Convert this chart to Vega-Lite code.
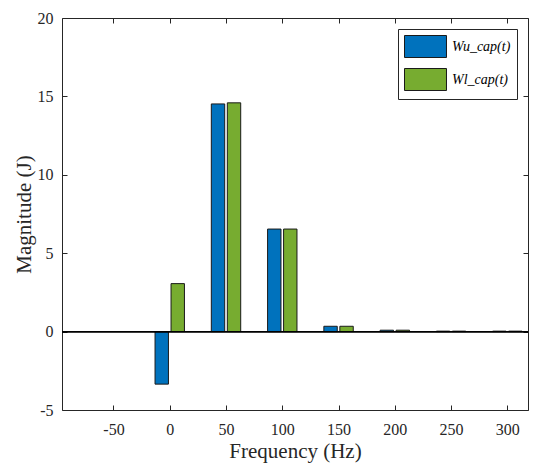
{
  "$schema": "https://vega.github.io/schema/vega-lite/v6.json",
  "width": 466,
  "height": 392,
  "autosize": "none",
  "padding": {"left": 62, "top": 18, "right": 6, "bottom": 55},
  "background": "white",
  "config": {
    "view": {"stroke": null},
    "font": "Liberation Serif",
    "style": {
      "guide-label": {"font": "Liberation Serif"},
      "guide-title": {"font": "Liberation Serif"}
    },
    "axis": {
      "domainColor": "#262626",
      "domainWidth": 1,
      "tickColor": "#262626",
      "tickWidth": 1,
      "tickSize": -5,
      "grid": false,
      "labelFont": "Liberation Serif",
      "labelFontSize": 16,
      "labelColor": "#262626",
      "titleFont": "Liberation Serif",
      "titleFontSize": 21,
      "titleFontWeight": "normal",
      "titleColor": "#262626"
    },
    "legend": {
      "labelFont": "Liberation Serif",
      "labelFontSize": 14,
      "labelFontStyle": "italic",
      "labelColor": "#000000"
    }
  },
  "data": {
    "values": [
      {"freq": 0, "series": "Wu", "value": -3.35},
      {"freq": 50, "series": "Wu", "value": 14.52},
      {"freq": 100, "series": "Wu", "value": 6.54},
      {"freq": 150, "series": "Wu", "value": 0.34},
      {"freq": 200, "series": "Wu", "value": 0.09},
      {"freq": 250, "series": "Wu", "value": 0.03},
      {"freq": 300, "series": "Wu", "value": 0.03},
      {"freq": 0, "series": "Wl", "value": 3.06},
      {"freq": 50, "series": "Wl", "value": 14.59},
      {"freq": 100, "series": "Wl", "value": 6.54},
      {"freq": 150, "series": "Wl", "value": 0.34},
      {"freq": 200, "series": "Wl", "value": 0.09},
      {"freq": 250, "series": "Wl", "value": 0.03},
      {"freq": 300, "series": "Wl", "value": 0.03}
    ]
  },
  "layer": [
    {
      "transform": [{"filter": "datum.series == 'Wu'"}],
      "mark": {"type": "bar", "size": 13.4, "xOffset": -8, "stroke": "#1a1a1a", "strokeWidth": 1},
      "encoding": {
        "x": {
          "field": "freq", "type": "quantitative",
          "scale": {"domain": [-91.3, 313.9], "nice": false, "zero": false},
          "axis": {"values": [-50, 0, 50, 100, 150, 200, 250, 300], "labelExpr": "toString(datum.value)", "title": "Frequency (Hz)", "labelPadding": 16, "titlePadding": 3}
        },
        "y": {
          "field": "value", "type": "quantitative",
          "scale": {"domain": [-5, 20], "nice": false},
          "axis": {"values": [-5, 0, 5, 10, 15, 20], "labelExpr": "toString(datum.value)", "title": "Magnitude (J)", "labelPadding": 14, "titlePadding": 3}
        },
        "color": {
          "field": "series", "type": "nominal",
          "scale": {"domain": ["Wu", "Wl"], "range": ["#0072BD", "#77AC30"]},
          "legend": {
            "title": null,
            "orient": "top-right",
            "offset": 11,
            "labelExpr": "datum.label == 'Wu' ? 'Wu_cap(t)' : 'Wl_cap(t)'",
            "symbolType": "M-1,-1H2.818V1H-1Z",
            "symbolSize": 484,
            "symbolStrokeColor": "#1a1a1a",
            "symbolStrokeWidth": 1,
            "symbolOpacity": 1,
            "strokeColor": "#262626",
            "fillColor": "white",
            "padding": 6,
            "rowPadding": 6,
            "labelOffset": 25
          }
        }
      }
    },
    {
      "transform": [{"filter": "datum.series == 'Wl'"}],
      "mark": {"type": "bar", "size": 13.4, "xOffset": 8, "stroke": "#1a1a1a", "strokeWidth": 1},
      "encoding": {
        "x": {"field": "freq", "type": "quantitative", "scale": {"domain": [-91.3, 313.9], "nice": false, "zero": false}, "axis": null},
        "y": {"field": "value", "type": "quantitative", "scale": {"domain": [-5, 20], "nice": false}, "axis": null},
        "color": {"field": "series", "type": "nominal", "scale": {"domain": ["Wu", "Wl"], "range": ["#0072BD", "#77AC30"]}}
      }
    },
    {
      "mark": {"type": "rule", "color": "#000000", "strokeWidth": 1},
      "encoding": {
        "y": {"datum": 0, "type": "quantitative", "scale": {"domain": [-5, 20], "nice": false}, "axis": null}
      }
    },
    {
      "mark": {"type": "point", "opacity": 0},
      "encoding": {
        "x": {
          "field": "freq", "type": "quantitative",
          "scale": {"domain": [-91.3, 313.9], "nice": false, "zero": false},
          "axis": {"orient": "top", "values": [-50, 0, 50, 100, 150, 200, 250, 300], "labels": false, "title": null}
        },
        "y": {
          "field": "value", "type": "quantitative",
          "scale": {"domain": [-5, 20], "nice": false},
          "axis": {"orient": "right", "values": [-5, 0, 5, 10, 15, 20], "labels": false, "title": null}
        }
      }
    }
  ],
  "resolve": {"axis": {"x": "independent", "y": "independent"}}
}
